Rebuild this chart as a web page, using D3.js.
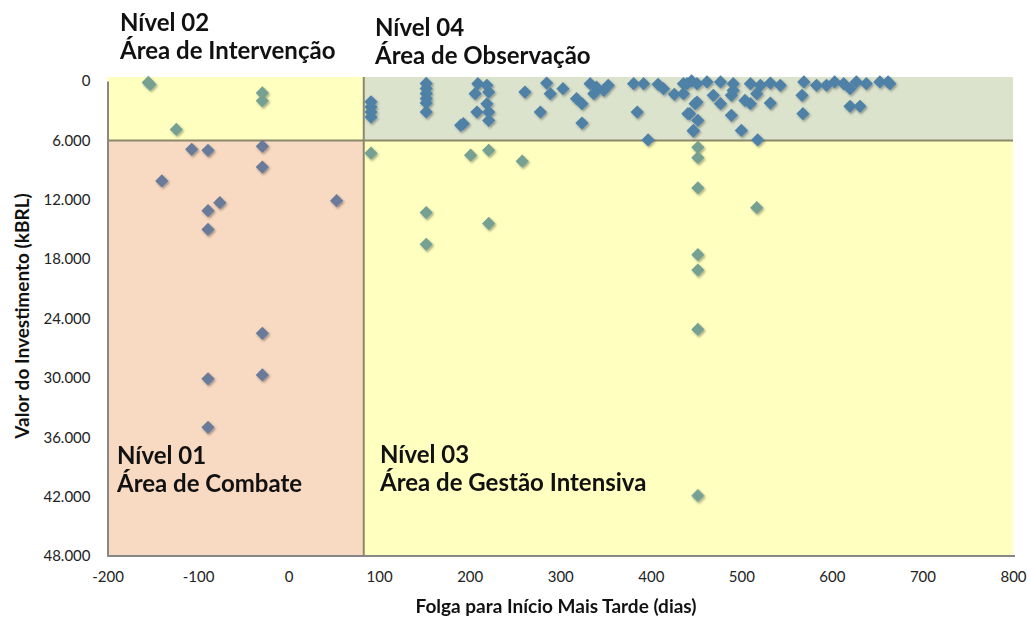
<!DOCTYPE html>
<html>
<head>
<meta charset="utf-8">
<script src="https://d3js.org/d3.v7.min.js"></script>
<style>
  body { margin: 0; background: #fff; }
  text { font-family: Lato, "Open Sans", sans-serif; }
</style>
</head>
<body>
<svg id="chart" width="1030" height="617"></svg>
<script>
// slack (days) and investment (kBRL) for each project
const slackDays = [
  -155, -153, -124, -29, -29, -107, -89, -29, -29, -140, -76, -89, 53, -89, -29, -29, -89, -89,
  91, 201, 221, 258, 152, 221, 152, 452, 452, 452, 517, 518, 452, 452, 452, 452, 397,
  152, 152, 152, 152, 152, 152, 91, 91, 91, 91,
  209, 219, 206, 221, 219, 208, 221, 221, 193, 190,
  261, 285, 289, 303, 278, 318, 324, 324, 333, 340, 348, 353, 337,
  381, 392, 408, 414, 426, 385, 436, 445, 443, 447, 449,
  440, 451, 462, 477, 491, 510, 521, 532, 543,
  569, 583, 594, 603, 613, 627, 638, 653, 662, 664,
  620, 567, 436, 451, 469, 477, 491, 489, 504, 510, 517, 532, 441, 452, 447, 489, 500, 568, 620, 631
];
const investment = [
  150, 350, 4900, 1200, 2000, 6900, 7000, 6600, 8700, 10100, 12300, 13100, 12100, 15000, 25500, 29700, 30100, 35000,
  7300, 7500, 7000, 8100, 13300, 14400, 16500, 6700, 7750, 10800, 12800, 5950, 17550, 19100, 25100, 41900, 5950,
  240, 770, 1270, 1780, 2220, 3120, 2100, 2630, 3130, 3640,
  270, 440, 1280, 1120, 2300, 3140, 3140, 3980, 4310, 4480,
  1120, 210, 1280, 780, 3140, 1790, 2290, 4250, 270, 620, 950, 440, 1280,
  270, 270, 340, 780, 1350, 3140, 270, 0, 3300, 4990, 2290,
  270, 270, 100, 100, 270, 270, 440, 210, 440,
  100, 440, 440, 100, 270, 100, 270, 100, 100, 270,
  780, 1450, 1280, 2130, 1450, 2290, 950, 1450, 1960, 2290, 1280, 2230, 3300, 3980, 5060, 3470, 4990, 3300, 2560, 2560
];

const xTicks = [-200, -100, 0, 100, 200, 300, 400, 500, 600, 700, 800];
const yTicks = [0, 6000, 12000, 18000, 24000, 30000, 36000, 42000, 48000];

// quadrant thresholds
const slackLimit = 83;
const investLimit = 6000;

const levelLabels = [
  { name: "Nível 02", area: "Área de Intervenção" },
  { name: "Nível 04", area: "Área de Observação" },
  { name: "Nível 01", area: "Área de Combate" },
  { name: "Nível 03", area: "Área de Gestão Intensiva" }
];

const points = slackDays.map((d, i) => ({ x: d, y: investment[i] }));

const svg = d3.select("#chart");
const x = d3.scaleLinear().domain([-200, 800]).range([107.5, 1013]);
const y = d3.scaleLinear().domain([0, 48000]).range([81, 556]);

const br = d3.formatLocale({ decimal: ",", thousands: ".", grouping: [3], currency: ["R$", ""], minus: "-" });
const fmtY = br.format(",");
const fmtX = br.format("d");

const plotTop = y(0) - 4;
const xs = x(slackLimit), ys = y(investLimit);

// background areas
const areas = [
  { x0: x(-200), x1: xs, y0: plotTop, y1: ys, fill: "#ffffc0" },
  { x0: xs, x1: x(800), y0: plotTop, y1: ys, fill: "#dce3cd" },
  { x0: x(-200), x1: xs, y0: ys, y1: y(48000), fill: "#f8d9c1" },
  { x0: xs, x1: x(800), y0: ys, y1: y(48000), fill: "#ffffc0" }
];
svg.append("g").selectAll("rect")
  .data(areas)
  .join("rect")
  .attr("x", d => d.x0).attr("y", d => d.y0)
  .attr("width", d => d.x1 - d.x0).attr("height", d => d.y1 - d.y0)
  .attr("fill", d => d.fill);

// divider lines
svg.append("line")
  .attr("x1", x(-200)).attr("x2", x(800))
  .attr("y1", ys).attr("y2", ys)
  .attr("stroke", "#8a896c").attr("stroke-width", 2);
svg.append("line")
  .attr("x1", xs).attr("x2", xs)
  .attr("y1", plotTop).attr("y2", y(48000))
  .attr("stroke", "#8a896c").attr("stroke-width", 2);

// axes
const xAxis = svg.append("g")
  .attr("transform", `translate(0,${y(48000)})`)
  .call(d3.axisBottom(x).tickValues(xTicks).tickFormat(fmtX).tickSize(0).tickPadding(15));
const yAxis = svg.append("g")
  .attr("transform", `translate(${x(-200)},0)`)
  .call(d3.axisLeft(y).tickValues(yTicks).tickFormat(fmtY).tickSize(0).tickPadding(17));
[xAxis, yAxis].forEach(a => {
  a.select(".domain").attr("stroke", "#878787").attr("stroke-width", 2);
  a.selectAll("text").attr("font-size", 15).attr("fill", "#222").attr("font-family", "Lato, sans-serif");
});
xAxis.select(".domain").attr("d", `M${x(-200)},0H${x(800) + 2}`);

// marker shadow
const defs = svg.append("defs");
defs.append("filter").attr("id", "shadow")
  .attr("x", "-50%").attr("y", "-50%").attr("width", "200%").attr("height", "200%")
  .append("feDropShadow")
  .attr("dx", 1.2).attr("dy", 1.5).attr("stdDeviation", 1)
  .attr("flood-color", "#000").attr("flood-opacity", 0.35);

function markerColor(d) {
  if (d.x < slackLimit) return d.y < investLimit ? "#76a192" : "#6b7a99";
  return d.y < investLimit ? "#4f81a6" : "#76a192";
}

const diamond = d3.symbol().type(d3.symbolSquare).size(88);
svg.append("g")
  .attr("filter", "url(#shadow)")
  .selectAll("path")
  .data(points)
  .join("path")
  .attr("d", diamond)
  .attr("transform", d => `translate(${x(d.x)},${y(d.y)}) rotate(45)`)
  .attr("fill", d => markerColor(d));

// quadrant labels
const labelPos = [[120, 31], [375, 36], [117, 464], [380, 463]];
const lbl = svg.append("g").selectAll("text")
  .data(levelLabels)
  .join("text")
  .attr("x", (d, i) => labelPos[i][0])
  .attr("y", (d, i) => labelPos[i][1])
  .attr("font-size", 24).attr("font-weight", "bold").attr("fill", "#111");
lbl.append("tspan").text(d => d.name);
lbl.append("tspan").attr("x", (d, i) => labelPos[i][0]).attr("dy", 28).text(d => d.area);

// axis titles
svg.append("text")
  .attr("x", 556).attr("y", 613)
  .attr("text-anchor", "middle")
  .attr("font-size", 19).attr("font-weight", "bold").attr("fill", "#111")
  .text("Folga para Início Mais Tarde (dias)");
svg.append("text")
  .attr("transform", "translate(29,316) rotate(-90)")
  .attr("text-anchor", "middle")
  .attr("font-size", 19).attr("font-weight", "bold").attr("fill", "#111")
  .text("Valor do Investimento (kBRL)");
</script>
</body>
</html>
